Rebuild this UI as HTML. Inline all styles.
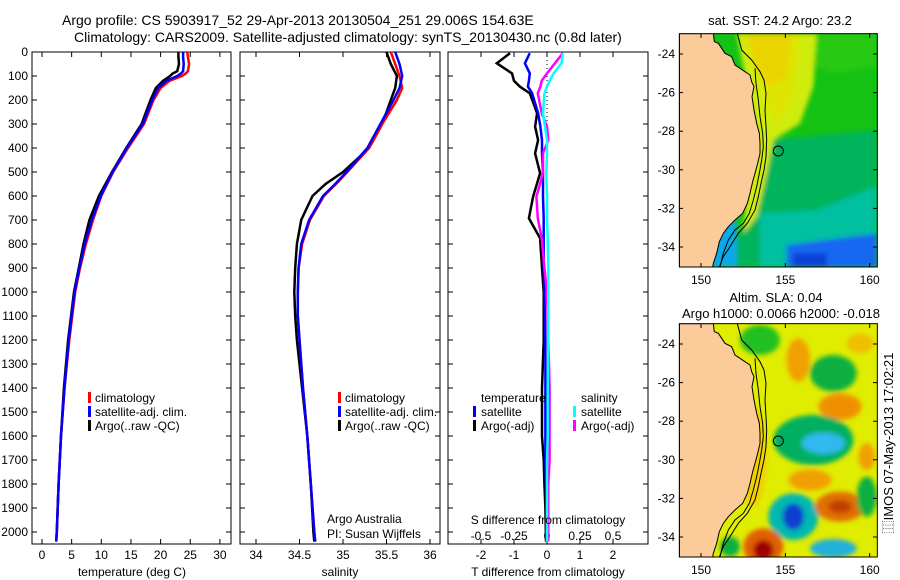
<!DOCTYPE html>
<html><head><meta charset="utf-8"><style>
html,body{margin:0;padding:0;background:#fff;}
svg{display:block;font-family:"Liberation Sans",sans-serif;}
text{font-size:12px;fill:#000;}
.tt{font-size:14px;}
.mt{font-size:13px;}
</style></head><body>
<svg id="fig" width="900" height="580" viewBox="0 0 900 580" xmlns="http://www.w3.org/2000/svg">
<defs>
<clipPath id="mapclip"><rect x="58" y="101" width="594" height="700"/></clipPath>
<filter id="bl" x="-10%" y="-10%" width="120%" height="120%"><feGaussianBlur stdDeviation="7"/></filter>
</defs>
<text class="tt" x="62" y="25">Argo profile: CS 5903917_52 29-Apr-2013 20130504_251 29.006S 154.63E</text>
<text class="tt" x="74" y="42">Climatology: CARS2009. Satellite-adjusted climatology: synTS_20130430.nc (0.8d later)</text>
<g id="panels"></g>

<g transform="translate(660,0) scale(0.33333)">
<g clip-path="url(#mapclip)">
<rect x="58" y="101" width="594" height="700" fill="#14c214"/>
<g filter="url(#bl)">
<polygon points="330,420 650,390 650,801 200,801 260,650" fill="#00b45c"/>
<polygon points="300,640 470,630 650,560 650,801 300,801" fill="#00c0a0"/>
<polygon points="380,735 650,700 650,801 380,801" fill="#1468f0"/>
<polygon points="400,760 500,760 500,801 400,801" fill="#1040d8"/>
<polygon points="150,680 230,660 230,801 150,801" fill="#10a8e8"/>
<polygon points="230,101 470,101 460,260 420,370 340,420 320,520 290,650 250,700 260,580 290,400" fill="#d0ec10"/>
<polygon points="260,101 390,101 380,230 330,260 290,200" fill="#f0c000"/>
<polygon points="240,101 420,101 400,280 350,380 320,300" fill="#e8e000" opacity="0.6"/>
<polygon points="470,101 650,101 650,200 520,220 470,200" fill="#30cc10" opacity="0.7"/>
</g>
<path d="M58,101 L160,101 L163,125 L175,130 L195,160 L215,170 L225,195 L240,205 L255,215 L270,225 L275,245 L282,260 L276,290 L282,330 L290,370 L298,400 L300,430 L300,460 L293,490 L285,520 L278,545 L270,580 L262,610 L248,640 L225,660 L205,680 L190,700 L178,725 L170,760 L160,790 L158,801 L58,801 Z" fill="#fbcb9a" stroke="#000" stroke-width="3"/>
<path d="M232,101 L245,150 L275,180 L300,215 L312,240 L318,280 L315,330 L318,380 L320,420 L318,470 L312,510 L303,550 L295,590 L285,630 L262,670 L235,700 L210,740 L190,770 L178,801" fill="none" stroke="#000" stroke-width="3"/>
<path d="M285,205 L288,250 L295,300 L300,350 L308,400 L310,440 L305,480 L298,520 L290,560 L280,600 L268,640 L250,670 L225,690 L205,720 L190,760 L180,801" fill="none" stroke="#000" stroke-width="3"/>
<circle cx="355" cy="453" r="15" fill="none" stroke="#000" stroke-width="3"/>
</g>
<rect x="58" y="101" width="594" height="700" fill="none" stroke="#000" stroke-width="3"/>
</g>

<g transform="translate(660,290) scale(0.33333)">
<g clip-path="url(#mapclip)">
<rect x="58" y="101" width="594" height="700" fill="#e0ec00"/>
<g filter="url(#bl)">
<ellipse cx="300" cy="150" rx="60" ry="45" fill="#20c020"/>
<ellipse cx="520" cy="250" rx="70" ry="55" fill="#10b040"/>
<ellipse cx="415" cy="210" rx="35" ry="65" fill="#f0a000"/>
<ellipse cx="600" cy="160" rx="40" ry="30" fill="#f0c000"/>
<ellipse cx="540" cy="350" rx="65" ry="40" fill="#f09000"/>
<ellipse cx="460" cy="450" rx="120" ry="75" fill="#00b060"/>
<ellipse cx="490" cy="460" rx="65" ry="32" fill="#30b8f0"/>
<ellipse cx="620" cy="500" rx="25" ry="40" fill="#f0a000"/>
<ellipse cx="450" cy="570" rx="65" ry="32" fill="#f0a000"/>
<ellipse cx="400" cy="680" rx="75" ry="70" fill="#00b8b0"/>
<ellipse cx="400" cy="680" rx="32" ry="40" fill="#1040d0"/>
<ellipse cx="540" cy="650" rx="75" ry="45" fill="#e07000"/>
<ellipse cx="540" cy="650" rx="35" ry="20" fill="#c04000"/>
<ellipse cx="310" cy="770" rx="60" ry="55" fill="#e06000"/>
<ellipse cx="310" cy="780" rx="30" ry="30" fill="#a00000"/>
<ellipse cx="520" cy="775" rx="70" ry="28" fill="#20b0d8"/>
<ellipse cx="620" cy="620" rx="30" ry="60" fill="#10b040"/>
<ellipse cx="210" cy="770" rx="30" ry="30" fill="#10b040"/>
<ellipse cx="280" cy="500" rx="40" ry="150" fill="#f0d000"/>
</g>
<path d="M58,101 L160,101 L163,125 L175,130 L195,160 L215,170 L225,195 L240,205 L255,215 L270,225 L275,245 L282,260 L276,290 L282,330 L290,370 L298,400 L300,430 L300,460 L293,490 L285,520 L278,545 L270,580 L262,610 L248,640 L225,660 L205,680 L190,700 L178,725 L170,760 L160,790 L158,801 L58,801 Z" fill="#fbcb9a" stroke="#000" stroke-width="3"/>
<path d="M232,101 L245,150 L275,180 L300,215 L312,240 L318,280 L315,330 L318,380 L320,420 L318,470 L312,510 L303,550 L295,590 L285,630 L262,670 L235,700 L210,740 L190,770 L178,801" fill="none" stroke="#000" stroke-width="3"/>
<path d="M285,205 L288,250 L295,300 L300,350 L308,400 L310,440 L305,480 L298,520 L290,560 L280,600 L268,640 L250,670 L225,690 L205,720 L190,760 L180,801" fill="none" stroke="#000" stroke-width="3"/>
<circle cx="355" cy="453" r="15" fill="none" stroke="#000" stroke-width="3"/>
</g>
<rect x="58" y="101" width="594" height="700" fill="none" stroke="#000" stroke-width="3"/>
</g>

<text class="mt" x="780" y="25" text-anchor="middle">sat. SST: 24.2 Argo: 23.2</text>
<text class="mt" x="776" y="302" text-anchor="middle">Altim. SLA: 0.04</text>
<text class="mt" x="781" y="318" text-anchor="middle">Argo h1000: 0.0066 h2000: -0.018</text>
<text class="mt" transform="translate(893,443) rotate(-90)" text-anchor="middle">⿲IMOS 07-May-2013 17:02:21</text>
<g id="mapticks"></g>
</svg>
<script>
var tDepth = [0,20,50,80,90,100,120,150,200,300,400,500,600,700,800,900,1000,1200,1400,1600,1800,2000,2040];
var tClim  = [24.5,24.6,24.8,24.6,24.2,23.6,21.5,20.0,18.8,17.2,14.5,12.0,10.0,8.6,7.4,6.4,5.6,4.6,3.8,3.2,2.8,2.5,2.4];
var tSat   = [23.8,23.8,23.9,23.8,23.4,22.8,21.0,19.6,18.6,17.0,14.3,11.9,9.9,8.4,7.2,6.3,5.5,4.5,3.8,3.2,2.8,2.5,2.4];
var tArgo  = [23.0,23.0,23.1,22.8,22.0,21.6,20.4,19.2,18.3,16.8,14.2,11.8,9.6,8.0,7.0,6.2,5.4,4.4,3.7,3.2,2.8,2.5,2.4];
var sDepth = [0,50,100,150,200,300,400,500,550,600,700,800,900,1000,1100,1200,1400,1600,1800,2000,2040];
var sClim  = [35.55,35.6,35.65,35.68,35.62,35.45,35.3,35.05,34.92,34.78,34.62,34.53,34.49,34.48,34.48,34.5,34.54,34.59,34.63,34.67,34.68];
var sSat   = [35.6,35.65,35.68,35.65,35.58,35.43,35.28,35.04,34.91,34.77,34.61,34.52,34.49,34.48,34.48,34.5,34.54,34.59,34.63,34.67,34.68];
var sArgo  = [35.5,35.55,35.62,35.6,35.55,35.45,35.3,35.0,34.8,34.65,34.52,34.47,34.45,34.44,34.45,34.47,34.53,34.59,34.63,34.66,34.67];
var dDepth = [5,47,89,120,144,172,255,311,367,422,505,603,693,776,900,1000,1200,1400,1500,1600,1700,1800,1900,2040];
var dTArgo = [-1.12,-1.52,-1.06,-1.0,-0.82,-0.52,-0.3,-0.36,-0.27,-0.36,-0.21,-0.42,-0.55,-0.21,-0.15,-0.1,-0.1,-0.15,-0.15,-0.15,-0.1,-0.08,-0.05,-0.03];
var dTSat  = [-0.52,-0.67,-0.52,-0.55,-0.58,-0.45,-0.27,-0.2,-0.15,-0.15,-0.12,-0.12,-0.1,-0.1,-0.1,-0.08,-0.05,-0.05,-0.05,-0.05,-0.05,-0.03,-0.02,-0.02];
var dSSat  = [0.12,0.11,0.05,0.02,0,-0.02,-0.03,-0.015,0,0,-0.005,0,0,0.005,0.01,0.01,0.01,0.005,0.005,0.005,0,0,0,0];
var dSArgo = [0.12,0.06,0.0,-0.04,-0.05,-0.07,-0.04,0,0.01,-0.03,-0.03,-0.08,-0.07,-0.04,-0.02,0,0.01,0.02,0.02,0.02,0.02,0.01,0.01,0.01];
var depthTicks = [0,100,200,300,400,500,600,700,800,900,1000,1100,1200,1300,1400,1500,1600,1700,1800,1900,2000];
var tTicks = [0,5,10,15,20,25,30];
var sTicks = [34,34.5,35,35.5,36];
var dTTicks = [-2,-1,0,1,2];
var dSTicks = [-0.5,-0.25,0,0.25,0.5];
var dSTickLabels = ["-0.5","-0.25","0","0.25","0.5"];
var lonTicks = [150,155,160];
var latTicks = [-24,-26,-28,-30,-32,-34];

var NS = "http://www.w3.org/2000/svg";
var G = document.getElementById('panels');
function el(tag, at, parent){var e=document.createElementNS(NS,tag);for(var k in at)e.setAttribute(k,at[k]);(parent||G).appendChild(e);return e;}
function txt(x,y,s,anchor,parent){var t=el('text',{x:x,y:y,'text-anchor':anchor||'middle'},parent);t.textContent=s;return t;}
var TOP=52, BOT=544;
function yD(d){return TOP+d*0.24;}
function xT(v){return 42+v*5.93;}
function xS(v){return 256+(v-34)*87;}
function xdT(v){return 547+v*33;}
function xdS(v){return 547+v*132;}
var panels=[[32,231],[240,440],[448,648]];
panels.forEach(function(p,i){
  var r=el('rect',{x:p[0],y:TOP,width:p[1]-p[0],height:BOT-TOP,fill:'#fff',stroke:'#000','stroke-width':1});
  
  
  depthTicks.forEach(function(d){
    el('line',{x1:p[0],x2:p[0]+5,y1:yD(d),y2:yD(d),stroke:'#000'});
    el('line',{x1:p[1],x2:p[1]-5,y1:yD(d),y2:yD(d),stroke:'#000'});
  });
});
depthTicks.forEach(function(d){
  var t=txt(28,yD(d)+4,String(d),'end');
  
  
});
function xticks(arr,fx,labels,ly,inside){
  arr.forEach(function(v,i){
    var x=fx(v);
    el('line',{x1:x,x2:x,y1:BOT,y2:BOT-5,stroke:'#000'});
    if(!inside) el('line',{x1:x,x2:x,y1:TOP,y2:TOP+5,stroke:'#000'});
    var t=txt(x,ly,labels?labels[i]:String(v));
    
    
  });
}
xticks(tTicks,xT,null,559);
xticks(sTicks,xS,null,559);
xticks(dTTicks,xdT,null,559);
dSTicks.forEach(function(v,i){
  var t=txt(xdS(v),540,dSTickLabels[i]);
  
  
});
function line(depths,vals,fx,col,name){
  var pts=depths.map(function(d,i){return fx(vals[i]).toFixed(1)+','+yD(d).toFixed(1);}).join(' ');
  var pl=el('polyline',{points:pts,fill:'none',stroke:col,'stroke-width':2.5,'stroke-linejoin':'miter'});
  
  
}
line(tDepth,tArgo,xT,'#000','temp-argo-line');
line(tDepth,tClim,xT,'#f00','temp-climatology-line');
line(tDepth,tSat,xT,'#00f','temp-satellite-line');
line(sDepth,sArgo,xS,'#000','sal-argo-line');
line(sDepth,sClim,xS,'#f00','sal-climatology-line');
line(sDepth,sSat,xS,'#00f','sal-satellite-line');
el('line',{x1:547,x2:547,y1:TOP,y2:yD(320),stroke:'#000','stroke-dasharray':'1,3'});
line(dDepth,dTArgo,xdT,'#000','tdiff-argo-line');
line(dDepth,dTSat,xdT,'#00f','tdiff-satellite-line');
line(dDepth,dSArgo,xdS,'#f0f','sdiff-argo-line');
line(dDepth,dSSat,xdS,'#0ff','sdiff-satellite-line');

function legend(x,y,entries,name){
  entries.forEach(function(e,i){
    var yy=y+i*14;
    if(e[1]) el('rect',{x:x,y:yy-10,width:3,height:11,fill:e[1]});
    var t=txt(x+e[2],yy,e[0],'start');
    
    
  });
}
legend(88,402,[['climatology','#f00',7],['satellite-adj. clim.','#00f',7],['Argo(..raw -QC)','#000',7]],'temp-legend');
legend(338,402,[['climatology','#f00',7],['satellite-adj. clim.','#00f',7],['Argo(..raw -QC)','#000',7]],'sal-legend');
legend(473,402,[['temperature',null,8],['satellite','#00f',8],['Argo(-adj)','#000',8]],'tdiff-legend');
legend(573,402,[['salinity',null,8],['satellite','#0ff',8],['Argo(-adj)','#f0f',8]],'sdiff-legend');
txt(327,523,'Argo Australia','start');
txt(327,538,'PI: Susan Wijffels','start');
txt(548,524,'S difference from climatology');
var a1=txt(132,576,'temperature (deg C)');
var a2=txt(340,576,'salinity');
var a3=txt(548,576,'T difference from climatology');

var MG=document.getElementById('mapticks');
function xLon(v){return 701+(v-150)*16.87;}
function yLat(v,top){return top+20+(-24-v)*19.3;}
[[34,267],[324,557]].forEach(function(m,k){
  lonTicks.forEach(function(v){
    var x=xLon(v);
    el('line',{x1:x,x2:x,y1:m[1],y2:m[1]-4,stroke:'#000'},MG);
    el('line',{x1:x,x2:x,y1:m[0],y2:m[0]+4,stroke:'#000'},MG);
    var t=txt(x,m[1]+17,String(v),'middle',MG);
    
    
  });
  latTicks.forEach(function(v){
    var y=yLat(v,m[0]);
    el('line',{x1:679,x2:683,y1:y,y2:y,stroke:'#000'},MG);
    el('line',{x1:877,x2:873,y1:y,y2:y,stroke:'#000'},MG);
    var t=txt(675,y+4,String(v),'end',MG);
    
    
  });
});
</script>
</body></html>
